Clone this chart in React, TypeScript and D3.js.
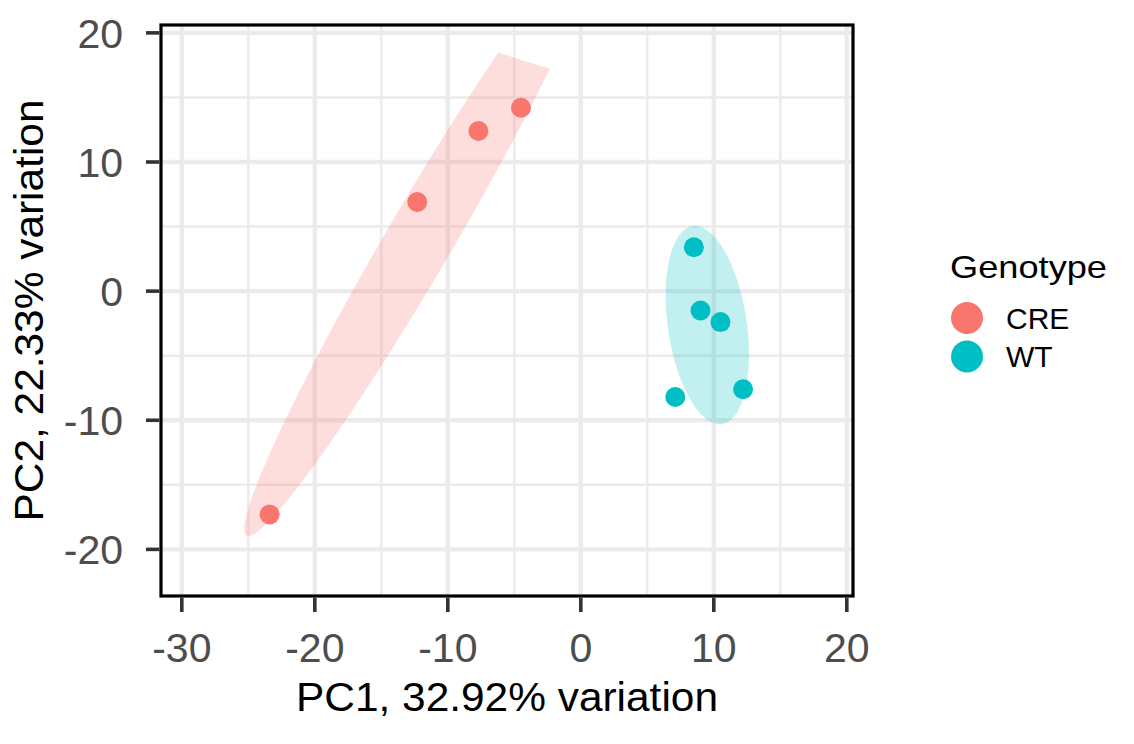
import React, { useEffect, useRef } from "react";
import * as d3 from "d3";

// PCA scores
const creX = [-23.4, -12.3, -7.7, -4.5];
const creY = [-17.3, 6.9, 12.4, 14.2];
const wtX = [8.5, 9.0, 10.5, 7.1, 12.2];
const wtY = [3.4, -1.5, -2.4, -8.2, -7.6];

const groups = ["CRE", "WT"];
const groupColors = ["#F8766D", "#00BFC4"];

// ellipse shapes: centre x, centre y, semi-major, semi-minor, angle (deg)
const creEllipse = [-12.1, 4.0, 26.4, 2.5, 60.4];
const wtEllipse = [9.51, -2.63, 7.75, 2.97, 98.1];

const xTicks = [-30, -20, -10, 0, 10, 20];
const yTicks = [-20, -10, 0, 10, 20];
const xMinor = [-25, -15, -5, 5, 15];
const yMinor = [-15, -5, 5, 15];
// scale limits before the 5% expansion (ellipse points outside get dropped)
const xLim = [-29.2, 18.1];
const yLim = [-21.6, 18.6];

const FONT = "'Liberation Sans', Arial, Helvetica, sans-serif";

const App = () => {
  const ref = useRef(null);

  useEffect(() => {
    document.body.style.margin = "0";
    const width = 1134;
    const height = 744;
    const left = 161, right = 853, top = 25, bottom = 596;

    d3.select(ref.current).selectAll("*").remove();
    const svg = d3.select(ref.current)
      .append("svg")
      .attr("width", width)
      .attr("height", height)
      .style("display", "block");

    svg.append("rect").attr("width", width).attr("height", height).attr("fill", "#fff");

    const xR = xLim[1] - xLim[0];
    const yR = yLim[1] - yLim[0];
    const x = d3.scaleLinear()
      .domain([xLim[0] - 0.05 * xR, xLim[1] + 0.05 * xR])
      .range([left, right]);
    const y = d3.scaleLinear()
      .domain([yLim[0] - 0.05 * yR, yLim[1] + 0.05 * yR])
      .range([bottom, top]);

    // grid
    const grid = svg.append("g");
    grid.selectAll(".vmin").data(xMinor).enter().append("line")
      .attr("x1", d => x(d)).attr("x2", d => x(d))
      .attr("y1", top).attr("y2", bottom)
      .attr("stroke", "#EBEBEB").attr("stroke-width", 2.4);
    grid.selectAll(".hmin").data(yMinor).enter().append("line")
      .attr("y1", d => y(d)).attr("y2", d => y(d))
      .attr("x1", left).attr("x2", right)
      .attr("stroke", "#EBEBEB").attr("stroke-width", 2.4);
    grid.selectAll(".vmaj").data(xTicks).enter().append("line")
      .attr("x1", d => x(d)).attr("x2", d => x(d))
      .attr("y1", top).attr("y2", bottom)
      .attr("stroke", "#EBEBEB").attr("stroke-width", 4.4);
    grid.selectAll(".hmaj").data(yTicks).enter().append("line")
      .attr("y1", d => y(d)).attr("y2", d => y(d))
      .attr("x1", left).attr("x2", right)
      .attr("stroke", "#EBEBEB").attr("stroke-width", 4.4);

    // ellipses: same vertex layout as stat_ellipse (unit circle %*% chol(shape), 51 segments)
    const ellipsePoints = (e) => {
      const [cx, cy, a, b, deg] = e;
      const th = (deg * Math.PI) / 180;
      const c = Math.cos(th), s = Math.sin(th);
      const sxx = a * a * c * c + b * b * s * s;
      const syy = a * a * s * s + b * b * c * c;
      const sxy = (a * a - b * b) * c * s;
      const r11 = Math.sqrt(sxx);
      const r12 = sxy / r11;
      const r22 = Math.sqrt(syy - r12 * r12);
      return d3.range(52).map(i => {
        const t = (i / 51) * 2 * Math.PI;
        return [cx + r11 * Math.cos(t), cy + r12 * Math.cos(t) + r22 * Math.sin(t)];
      }).filter(p => p[0] >= xLim[0] && p[0] <= xLim[1] && p[1] >= yLim[0] && p[1] <= yLim[1]);
    };
    const line = d3.line()
      .x(d => x(d[0]))
      .y(d => y(d[1]));

    [creEllipse, wtEllipse].forEach((e, i) => {
      svg.append("path")
        .attr("d", line(ellipsePoints(e)) + "Z")
        .attr("fill", groupColors[i])
        .attr("fill-opacity", 0.24)
        .attr("stroke", "none");
    });

    // points
    const series = [
      creX.map((v, i) => [v, creY[i]]),
      wtX.map((v, i) => [v, wtY[i]]),
    ];
    series.forEach((pts, gi) => {
      svg.append("g").selectAll("circle").data(pts).enter().append("circle")
        .attr("cx", d => x(d[0]))
        .attr("cy", d => y(d[1]))
        .attr("r", 10)
        .attr("fill", groupColors[gi]);
    });

    // panel border
    svg.append("rect")
      .attr("x", left).attr("y", top)
      .attr("width", right - left).attr("height", bottom - top)
      .attr("fill", "none").attr("stroke", "#000").attr("stroke-width", 3.2);

    // ticks + labels
    const axisG = svg.append("g");
    axisG.selectAll(".xt").data(xTicks).enter().append("line")
      .attr("x1", d => x(d)).attr("x2", d => x(d))
      .attr("y1", bottom + 1.5).attr("y2", bottom + 16)
      .attr("stroke", "#333").attr("stroke-width", 3.6);
    axisG.selectAll(".yt").data(yTicks).enter().append("line")
      .attr("y1", d => y(d)).attr("y2", d => y(d))
      .attr("x1", left - 1.5).attr("x2", left - 15)
      .attr("stroke", "#333").attr("stroke-width", 3.6);

    axisG.selectAll(".xl").data(xTicks).enter().append("text")
      .attr("x", d => x(d)).attr("y", 662)
      .attr("text-anchor", "middle")
      .attr("font-family", FONT).attr("font-size", 41).attr("fill", "#4D4D4D")
      .text(d => d);
    axisG.selectAll(".yl").data(yTicks).enter().append("text")
      .attr("x", 123).attr("y", d => y(d) + 15)
      .attr("text-anchor", "end")
      .attr("font-family", FONT).attr("font-size", 41).attr("fill", "#4D4D4D")
      .text(d => d);

    // axis titles
    svg.append("text")
      .attr("x", (left + right) / 2).attr("y", 711)
      .attr("text-anchor", "middle")
      .attr("font-family", FONT).attr("font-size", 40).attr("fill", "#000")
      .attr("textLength", 422).attr("lengthAdjust", "spacingAndGlyphs")
      .text("PC1, 32.92% variation");
    svg.append("text")
      .attr("transform", `translate(43,${(top + bottom) / 2}) rotate(-90)`)
      .attr("text-anchor", "middle")
      .attr("font-family", FONT).attr("font-size", 40).attr("fill", "#000")
      .attr("textLength", 422).attr("lengthAdjust", "spacingAndGlyphs")
      .text("PC2, 22.33% variation");

    // legend
    const legend = svg.append("g");
    legend.append("text")
      .attr("x", 950).attr("y", 278)
      .attr("font-family", FONT).attr("font-size", 32).attr("fill", "#000")
      .attr("textLength", 157).attr("lengthAdjust", "spacingAndGlyphs")
      .text("Genotype");
    groups.forEach((g, i) => {
      legend.append("circle")
        .attr("cx", 967).attr("cy", 318 + i * 38.5)
        .attr("r", 16).attr("fill", groupColors[i]);
      legend.append("text")
        .attr("x", 1006).attr("y", 318 + i * 38.5 + 10.5)
        .attr("font-family", FONT).attr("font-size", 30).attr("fill", "#000")
        .text(g);
    });
  }, []);

  return <div ref={ref}></div>;
};

export default App;
